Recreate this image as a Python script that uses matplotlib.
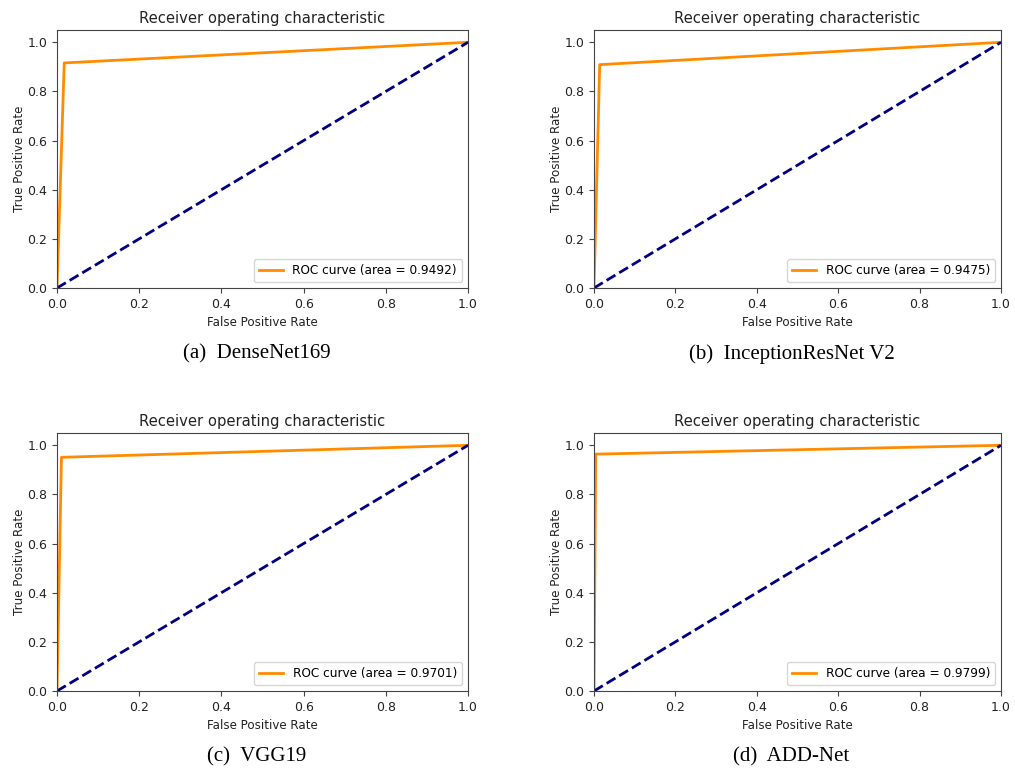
import matplotlib.pyplot as plt

models = ["DenseNet169", "InceptionResNet V2", "VGG19", "ADD-Net"]
tags = ["(a)", "(b)", "(c)", "(d)"]
aucs = [0.9492, 0.9475, 0.9701, 0.9799]
fpr_list = [[0.0, 0.0176, 1.0], [0.0, 0.014, 1.0], [0.0, 0.0108, 1.0], [0.0, 0.0042, 1.0]]
tpr_list = [[0.0, 0.916, 1.0], [0.0, 0.909, 1.0], [0.0, 0.951, 1.0], [0.0, 0.964, 1.0]]

W, H = 1015, 770
fig = plt.figure(figsize=(W / 100, H / 100), dpi=100)

# axes boxes in pixels: left, top, right, bottom
boxes = [(57, 30, 468, 288), (594, 30, 1001, 288),
         (57, 433, 468, 691), (594, 433, 1001, 691)]

for i in range(4):
    l, t, r, b = boxes[i]
    ax = fig.add_axes([l / W, 1 - b / H, (r - l) / W, (b - t) / H])
    ax.plot(fpr_list[i], tpr_list[i], color="darkorange", lw=2,
            label="ROC curve (area = %0.4f)" % aucs[i])
    ax.plot([0, 1], [0, 1], color="navy", lw=2, linestyle="--")
    ax.set_xlim([0.0, 1.0])
    ax.set_ylim([0.0, 1.05])
    ax.set_xlabel("False Positive Rate", fontsize=8.6, color="#222222")
    ax.set_ylabel("True Positive Rate", fontsize=8.6, color="#222222", labelpad=1)
    ax.set_title("Receiver operating characteristic", fontsize=10.6, color="#222222", pad=5)
    ax.tick_params(labelsize=9, labelcolor="#222222", color="#444444")
    for s in ax.spines.values():
        s.set_color("#444444")
    ax.legend(loc="lower right", fontsize=8.7)
    fig.text(((l + r) / 2 - 6) / W, 1 - (b + 66) / H, tags[i] + "  " + models[i],
             ha="center", va="center", fontsize=15, family="Liberation Serif")

plt.savefig("out.png", dpi=100)
